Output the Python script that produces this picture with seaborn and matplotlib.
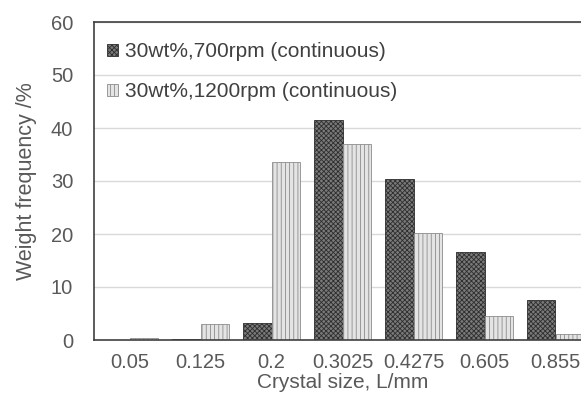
import pandas as pd
import seaborn as sns
import matplotlib.pyplot as plt
from matplotlib.patches import Patch

# data
sizes = ['0.05', '0.125', '0.2', '0.3025', '0.4275', '0.605', '0.855']
rpm700 = [0.0, 0.1, 3.3, 41.6, 30.4, 16.6, 7.6]
rpm1200 = [0.3, 3.1, 33.5, 37.0, 20.2, 4.6, 1.1]
series = ['30wt%,700rpm (continuous)', '30wt%,1200rpm (continuous)']


def build_frame():
    rows = []
    for s, vals in zip(series, [rpm700, rpm1200]):
        for c, v in zip(sizes, vals):
            rows.append({'size': c, 'freq': v, 'series': s})
    return pd.DataFrame(rows)


def main():
    sns.set_style('white')
    plt.rcParams['font.family'] = ['Liberation Sans', 'DejaVu Sans']
    plt.rcParams['hatch.linewidth'] = 0.6

    df = build_frame()
    fig = plt.figure(figsize=(5.81, 4.04), dpi=100)
    # axes runs past the right edge like the cropped original
    ax = fig.add_axes([94 / 581, (404 - 340) / 404, (591 - 94) / 581, (340 - 22) / 404])

    sns.barplot(data=df, x='size', y='freq', hue='series', order=sizes,
                hue_order=series, ax=ax, width=0.8, legend=False)

    styles = [('#7a7a7a', '#2e2e2e', 'xxxxxxx'), ('#e4e4e4', '#8c8c8c', '||||')]
    for cont, (fc, ec, h) in zip(ax.containers, styles):
        for bar in cont:
            bar.set_facecolor(fc)
            bar.set_edgecolor(ec)
            bar.set_hatch(h)
            bar.set_linewidth(0.6)

    ax.set_ylim(0, 60)
    ax.set_yticks(range(0, 61, 10))
    ax.yaxis.grid(True, color='#d9d9d9', linewidth=1)
    ax.set_axisbelow(True)
    ax.tick_params(length=0, labelsize=14.5, colors='#595959', pad=9)
    ax.tick_params(axis='y', pad=15)

    for side in ['left', 'bottom', 'top']:
        ax.spines[side].set_color('#404040')
        ax.spines[side].set_linewidth(1.2)
    ax.spines['right'].set_visible(False)

    ax.set_xlabel('Crystal size, L/mm', fontsize=15, color='#595959', labelpad=1)
    ax.set_ylabel('Weight frequency /%', fontsize=15.5, color='#595959', labelpad=10)

    handles = [Patch(facecolor=fc, edgecolor=ec, hatch=h, linewidth=0.6) for fc, ec, h in styles]
    leg = ax.legend(handles, series, loc='upper left', bbox_to_anchor=(0.0, 0.975),
                    frameon=False, fontsize=15, handlelength=0.55, handleheight=0.55,
                    handletextpad=0.35, labelspacing=1.0, borderaxespad=0.2)
    for t in leg.get_texts():
        t.set_color('#404040')

    fig.savefig('out.png', dpi=100)


if __name__ == "__main__":
    main()
